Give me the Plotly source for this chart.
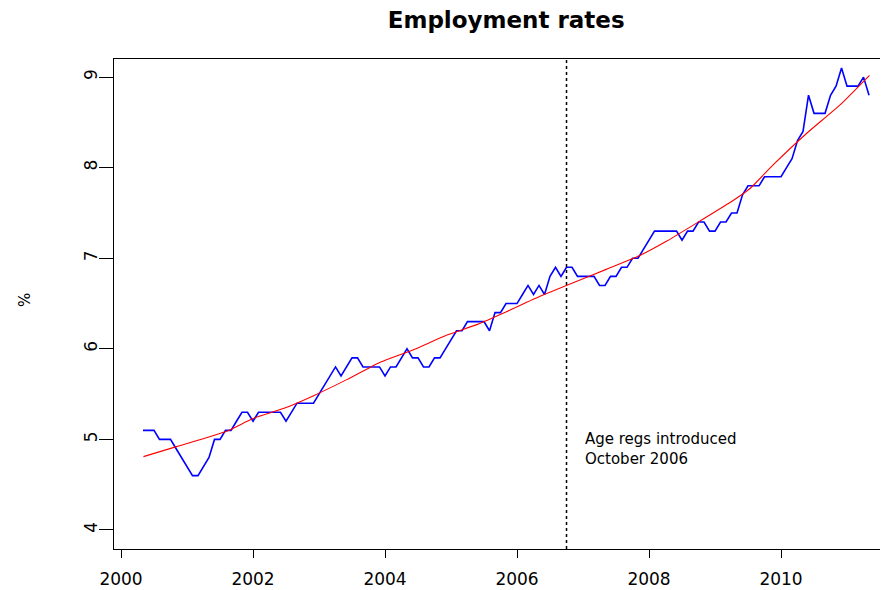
import plotly.graph_objects as go

# monthly series, starting May 2000
start_year = 2000
start_month = 5
rate = [
    5.1, 5.1, 5.1, 5.0, 5.0, 5.0, 4.9, 4.8, 4.7, 4.6, 4.6,
    4.7, 4.8, 5.0, 5.0, 5.1, 5.1, 5.2, 5.3, 5.3,
    5.2, 5.3, 5.3, 5.3, 5.3, 5.3, 5.2, 5.3, 5.4, 5.4, 5.4, 5.4,
    5.5, 5.6, 5.7, 5.8, 5.7, 5.8, 5.9, 5.9,
    5.8, 5.8, 5.8, 5.8, 5.7, 5.8, 5.8,
    5.9, 6.0, 5.9, 5.9, 5.8, 5.8, 5.9, 5.9,
    6.0, 6.1, 6.2, 6.2, 6.3,
    6.3, 6.3, 6.3, 6.2, 6.4, 6.4, 6.5, 6.5, 6.5,
    6.6, 6.7, 6.6, 6.7, 6.6, 6.8, 6.9, 6.8, 6.9, 6.9,
    6.8, 6.8, 6.8, 6.8, 6.7, 6.7, 6.8, 6.8, 6.9, 6.9,
    7.0, 7.0, 7.1, 7.2, 7.3, 7.3, 7.3, 7.3, 7.3,
    7.2, 7.3, 7.3, 7.4, 7.4, 7.3, 7.3, 7.4, 7.4, 7.5, 7.5,
    7.7, 7.8, 7.8, 7.8, 7.9, 7.9, 7.9, 7.9,
    8.0, 8.1, 8.3, 8.4, 8.8,
    8.6, 8.6, 8.6, 8.8, 8.9, 9.1, 8.9, 8.9, 8.9, 9.0, 8.8,
]

# smoothed trend
trend_year = [2000.34, 2000.84, 2001.6, 2002.0, 2002.46, 2002.91, 2003.42, 2003.92,
              2004.43, 2004.93, 2005.4, 2005.84, 2006.35, 2006.85, 2007.36, 2007.86,
              2008.27, 2008.77, 2009.28, 2009.53, 2009.88, 2010.39, 2010.89, 2011.34]
trend_val = [4.81, 4.92, 5.09, 5.23, 5.34, 5.48, 5.66, 5.85,
             5.99, 6.15, 6.27, 6.41, 6.58, 6.73, 6.88, 7.03,
             7.19, 7.41, 7.64, 7.77, 8.03, 8.38, 8.69, 9.02]

event_year = 2006.75  # October 2006
event_text = ["Age regs introduced", "October 2006"]
x_ticks = [2000, 2002, 2004, 2006, 2008, 2010]
y_ticks = [4, 5, 6, 7, 8, 9]

time = [start_year + (start_month - 1 + i) / 12 for i in range(len(rate))]

font = "DejaVu Sans, Arial, sans-serif"

fig = go.Figure()
fig.add_trace(go.Scatter(x=time, y=rate, mode="lines",
                         line=dict(color="#0000FF", width=1.6)))
fig.add_trace(go.Scatter(x=trend_year, y=trend_val, mode="lines",
                         line=dict(color="#FF0000", width=1.1, shape="spline", smoothing=0.5)))

fig.add_vline(x=event_year, line=dict(color="black", width=1.5, dash="dot"))

fig.add_annotation(x=event_year + 0.25, y=5.0, text=event_text[0], showarrow=False,
                   xanchor="left", yanchor="middle", font=dict(size=15, color="black", family=font))
fig.add_annotation(x=event_year + 0.25, y=4.78, text=event_text[1], showarrow=False,
                   xanchor="left", yanchor="middle", font=dict(size=15, color="black", family=font))
fig.add_annotation(xref="paper", yref="paper", x=-0.128, y=0.508, text="%", showarrow=False,
                   textangle=-90, font=dict(size=15, color="black", family=font))

# page body adds 8px offset; margins compensate for it
fig.update_layout(
    width=888,
    height=590,
    showlegend=False,
    paper_bgcolor="white",
    plot_bgcolor="white",
    margin=dict(l=106, r=0, t=51, b=49),
    title=dict(text="<b>Employment rates</b>", x=0.561, xanchor="center",
               y=0.98, yanchor="middle", yref="container",
               font=dict(size=23, color="black", family=font)),
    font=dict(family=font, color="black"),
)

fig.update_xaxes(
    range=[1999.894, 2011.742],
    tickvals=x_ticks,
    ticks="outside", ticklen=8, tickcolor="black", tickwidth=1,
    ticklabelstandoff=6,
    showgrid=False, zeroline=False,
    showline=True, linecolor="black", linewidth=1.3, mirror=True,
    tickfont=dict(size=17, color="black", family=font),
)
fig.update_yaxes(
    range=[3.79, 9.2],
    tickvals=y_ticks,
    ticks="outside", ticklen=14, tickcolor="black", tickwidth=1,
    tickangle=-90,
    ticklabelstandoff=-5,
    showgrid=False, zeroline=False,
    showline=True, linecolor="black", linewidth=1.3,
    tickfont=dict(size=17, color="black", family=font),
)

fig.write_html("out.html")
